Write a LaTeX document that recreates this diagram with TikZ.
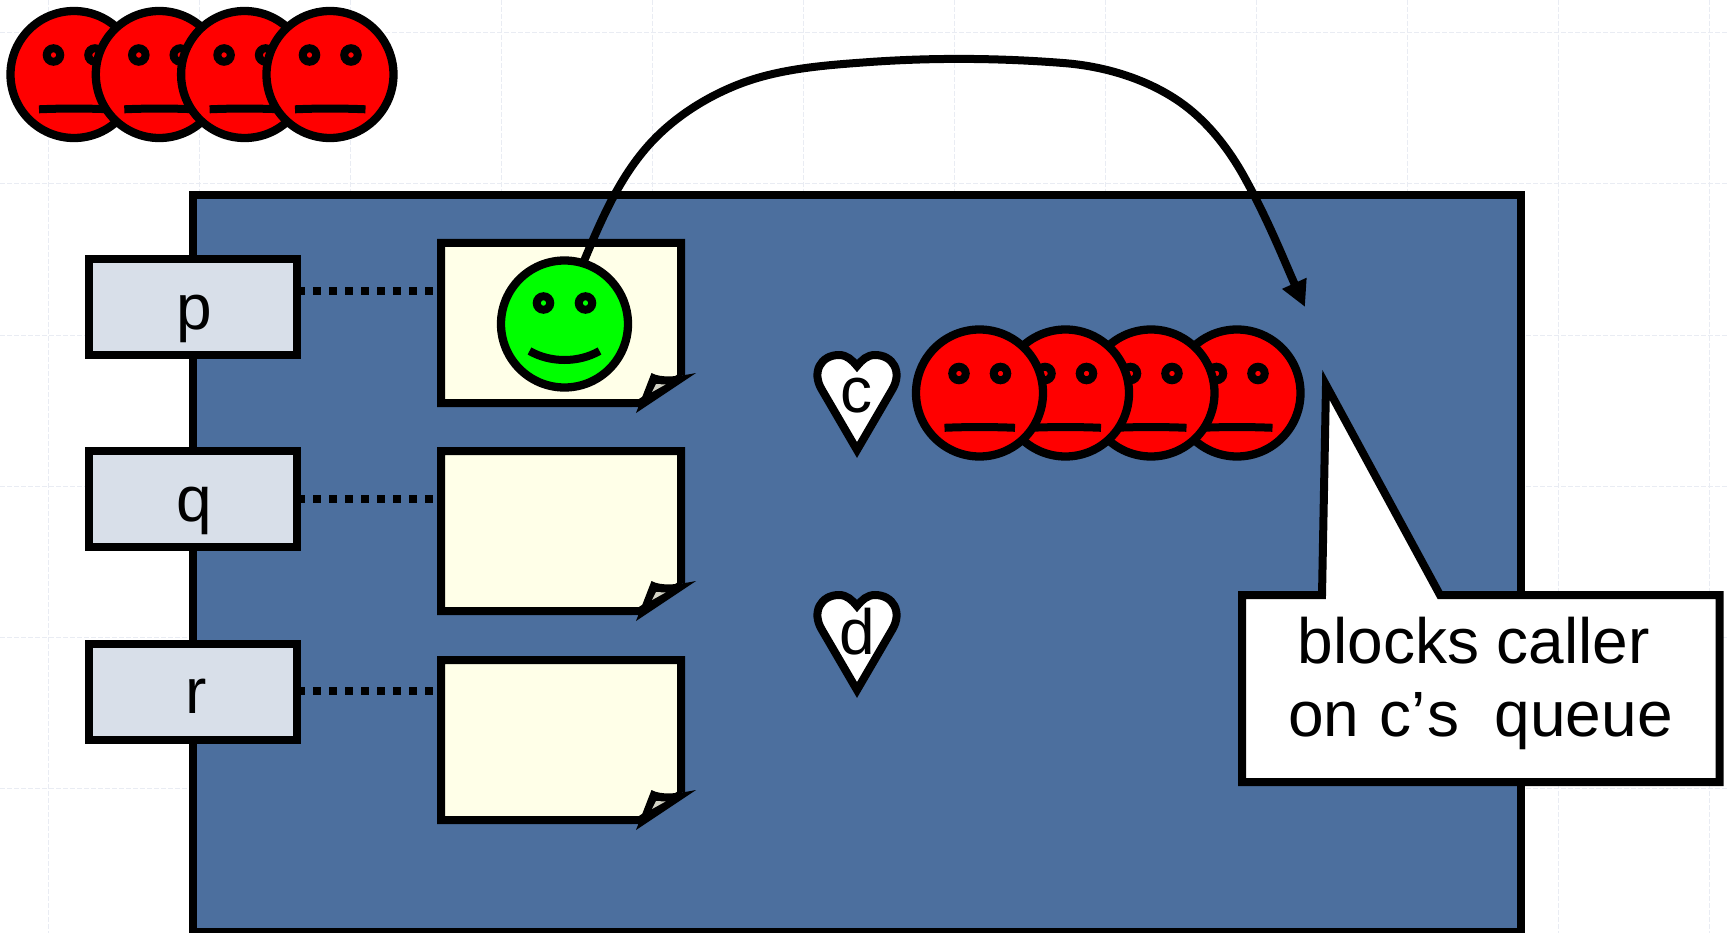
\documentclass[tikz,border=0pt]{standalone}
\usepackage{fontspec}
\setmainfont{Liberation Sans}[Kerning=Off]
\usetikzlibrary{arrows.meta}
\definecolor{slate}{HTML}{4C6F9E}
\definecolor{pale}{HTML}{D8DFE9}
\definecolor{cream}{HTML}{FFFFE8}
\definecolor{gridc}{HTML}{E9ECF3}
\definecolor{foldc}{HTML}{D2D2C4}
\tikzset{
  x=1pt,y=-1pt,
  ink/.style={line width=8pt,draw=black,miter limit=10},
  gridline/.style={draw=gridc,line width=1pt,dash pattern=on 5pt off 2pt},
  frame/.style={ink,fill=slate,rectangle,inner sep=0pt,outer sep=0pt,minimum width=1328pt,minimum height=736.5pt},
  namebox/.style={ink,fill=pale,rectangle,inner sep=0pt,outer sep=0pt,minimum width=208pt,minimum height=96pt},
  facebase/.style={line width=8.3pt,draw=black,circle,inner sep=0pt,outer sep=0pt,minimum size=127pt},
  eye/.style={line width=8pt,draw=black,circle,inner sep=0pt,minimum size=13.5pt},
  dots/.style={line width=8pt,draw=black,dash pattern=on 8pt off 8pt},
  label/.style={font=\fontsize{64}{73}\selectfont,inner sep=0pt,anchor=base},
  hop/.style={line width=8pt,draw=black,-{Triangle[length=26pt,width=25pt]}},
}
\newcommand{\sadface}[3]{%
  \begin{scope}[shift={(#2,#3)}]
    \node[facebase,fill=red] (#1) at (0,0) {};
    \node[eye,fill=red] (#1el) at (-20.5,-19.5) {};
    \node[eye,fill=red] (#1er) at (21,-19.5) {};
    \draw[line width=8pt] (-35,34.8) .. controls (-12,33.8) and (12,33.8) .. (35.5,34.8);
  \end{scope}}
\newcommand{\paper}[3]{%
  \begin{scope}[shift={(#2,#3)}]
    \draw[ink,fill=cream] (441,243) -- (681,243) -- (681,377) -- (640,403) -- (441,403) -- cycle;
    \coordinate (#1) at (441,243);
    \fill[slate] (683,375) -- (700,375) -- (700,420) -- (632,420) -- (632,407.5) -- (640,407.5) -- cycle;
    \fill[black] (651.5,373) .. controls (660,378) and (676,377) .. (696,373) -- (636,413) -- cycle;
    \fill[foldc] (656,384) -- (665.5,384.5) -- (652,392) -- cycle;
  \end{scope}}
\newcommand{\heartshape}[3]{%
  \begin{scope}[shift={(#2,#3)}]
    \draw[ink,fill=white] (0,92) -- (-35,32) .. controls (-46,14) and (-36,-3) .. (-18,-3)
      .. controls (-10,-3) and (-5,2) .. (0,8) .. controls (5,2) and (10,-3) .. (18,-3)
      .. controls (36,-3) and (46,14) .. (35,32) -- cycle;
    \coordinate (#1) at (0,0);
  \end{scope}}
\begin{document}
\begin{tikzpicture}
\useasboundingbox (0,0) rectangle (1729,933);
\fill[white] (0,0) rectangle (1729,933);
% faint guide grid
\foreach \gx in {48,199,350,501,652,803,954,1105,1256,1407,1558,1709}
  \draw[gridline] (\gx,0) -- (\gx,933);
\foreach \gy in {33,184,335,486,637,788}
  \draw[gridline] (0,\gy) -- (1729,\gy);
% top queue
\sadface{ta}{74}{74.5}
\sadface{tb}{159.3}{74.5}
\sadface{tc}{244.6}{74.5}
\sadface{td}{330}{74.5}
% main frame
\node[frame] (frame) at (857,563.25) {};
% pages
\paper{pa}{0}{0}
\paper{pb}{0}{208}
\paper{pc}{0}{417}
% name boxes
\node[namebox] (p) at (193,307) {};
\node[namebox] (q) at (193,499) {};
\node[namebox] (r) at (193,691.5) {};
\node[label] at (194,329) {p};
\node[label] at (194,521.5) {q};
\node[label] at (196,713) {r};
\coordinate (da) at (433,291);
\coordinate (db) at (433,499);
\coordinate (dc) at (433,691);
\draw[dots] (297,291) -- (da);
\draw[dots] (297,499) -- (db);
\draw[dots] (297,691) -- (dc);
% green face
\begin{scope}[shift={(564.5,324)}]
  \node[facebase,fill=green] (gf) at (0,0) {};
  \node[eye,fill=green] (gfl) at (-21,-21) {};
  \node[eye,fill=green] (gfr) at (21,-21) {};
  \draw[line width=8pt] (-35,27) .. controls (-14,39) and (14,39) .. (35,27);
\end{scope}
% hearts
\heartshape{hc}{857}{358}
\heartshape{hd}{857}{598}
\node[label] at (856.5,412) {c};
\node[label] at (857,654) {d};
% blocked queue
\sadface{qd}{1237}{393}
\sadface{qc}{1151}{393}
\sadface{qb}{1065.5}{393}
\sadface{qa}{979.5}{393}
% callout
\draw[ink,fill=white] (1242,595) -- (1322,595) -- (1326,385) -- (1440,595) -- (1719.5,595) -- (1719.5,782) -- (1242,782) -- cycle;
\node[font=\fontsize{64}{73}\selectfont,align=center,inner sep=0pt] (note) at (1480.5,683) {blocks caller\hspace*{13.4pt}\\on\kern2.5pt\ c’\kern1.5pt s\ \ queue};
% arrow
\coordinate (hopend) at (1305,307);
\draw[hop] (gf.73) .. controls (599,225) and (616,185) .. (642,153)
  .. controls (668,120.5) and (706,96) .. (745,82)
  .. controls (784.5,68) and (828,65) .. (870,62)
  .. controls (934,57.5) and (999,58) .. (1063,63)
  .. controls (1103,66) and (1144,78) .. (1177,100)
  .. controls (1207,120) and (1230,150) .. (1247,182)
  .. controls (1269,222) and (1286,265) .. (hopend);
\end{tikzpicture}
\end{document}
